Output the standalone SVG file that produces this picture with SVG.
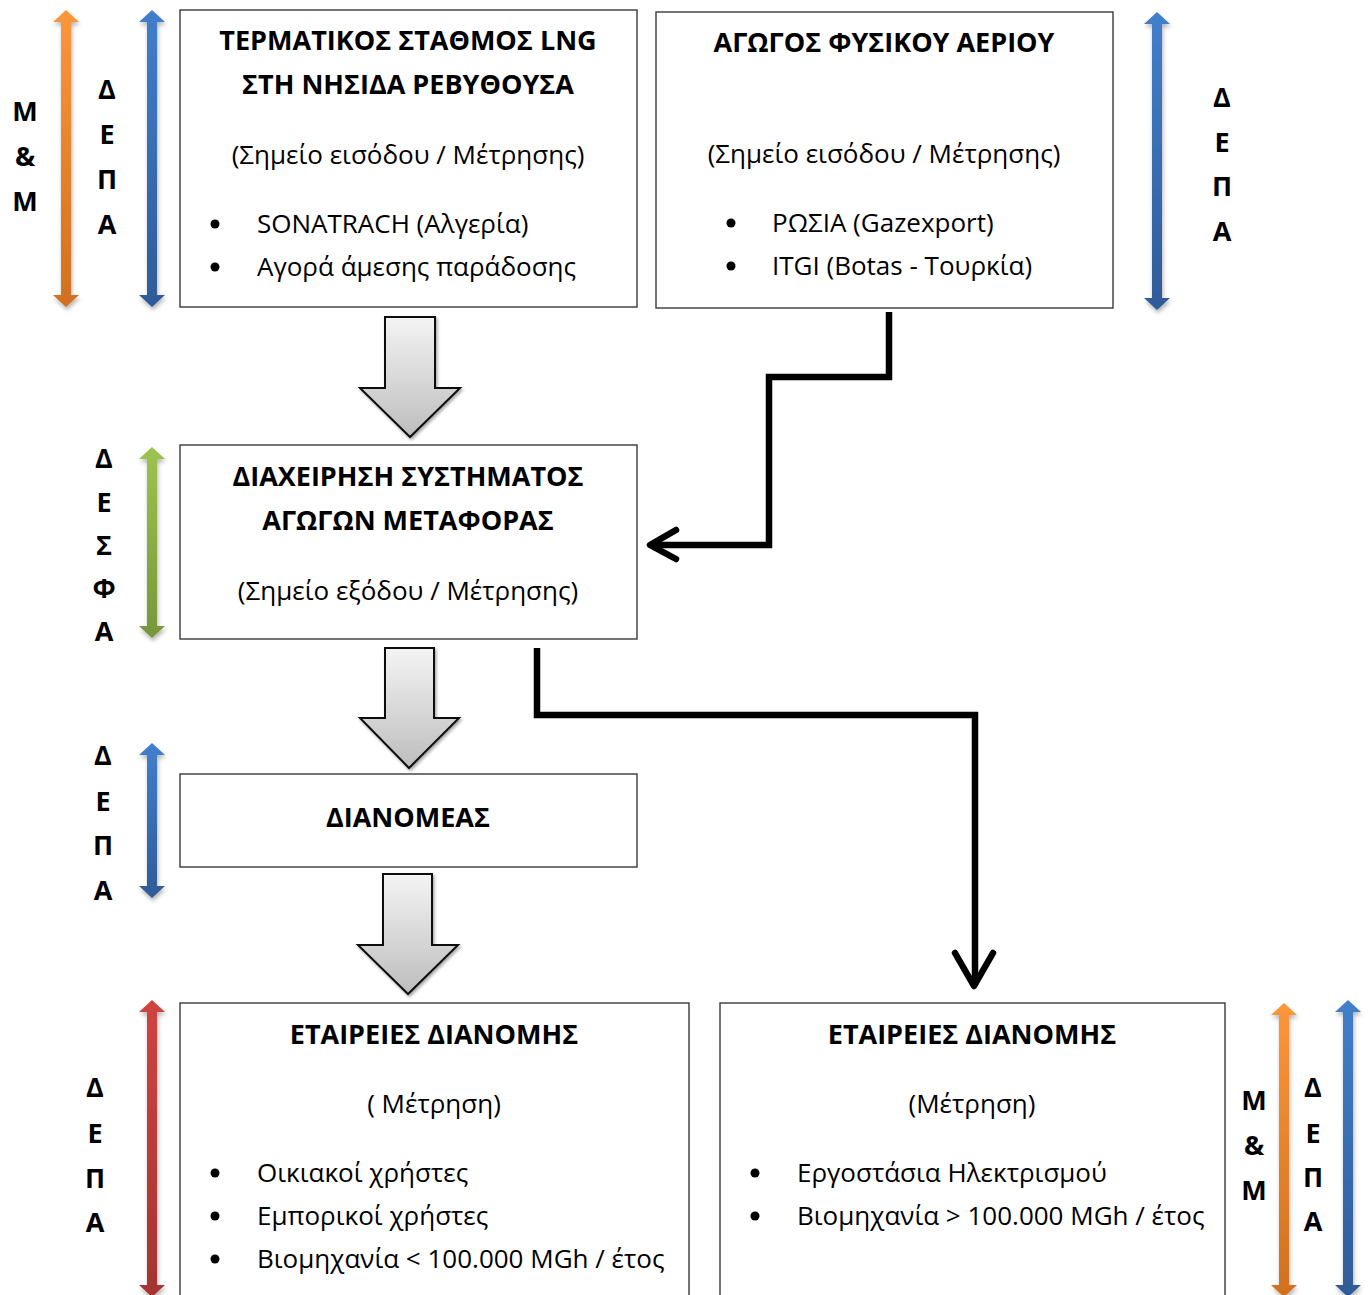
<svg xmlns="http://www.w3.org/2000/svg" width="1370" height="1295" viewBox="0 0 1370 1295">
<defs>
<style>
.box{fill:#fff;stroke:#3a3a3a;stroke-width:1.4}
.t{font-family:"Open Sans","Noto Sans","DejaVu Sans",sans-serif;font-size:26px;fill:#000}
.b{font-weight:bold;font-size:27px}
.m{text-anchor:middle}
.lt{font-family:"Open Sans","Noto Sans","DejaVu Sans",sans-serif;font-size:27px;font-weight:bold;fill:#000;text-anchor:middle}
.con{fill:none;stroke:#000;stroke-width:6.5;stroke-linejoin:miter}
.head{fill:none;stroke:#000;stroke-width:6.5;stroke-linecap:round;stroke-linejoin:round}
.blk{stroke:#111;stroke-width:2;fill:url(#gGray);filter:url(#sh)}
.da{filter:url(#sh2)}
</style>
<linearGradient id="gGray" x1="0" y1="0" x2="0" y2="1">
<stop offset="0" stop-color="#f4f4f4"/><stop offset="1" stop-color="#bdbdbd"/>
</linearGradient>
<linearGradient id="gOr" x1="0" y1="0" x2="0" y2="1">
<stop offset="0" stop-color="#fb973a"/><stop offset="1" stop-color="#d0701f"/>
</linearGradient>
<linearGradient id="gBl" x1="0" y1="0" x2="0" y2="1">
<stop offset="0" stop-color="#427fcc"/><stop offset="1" stop-color="#2f5b97"/>
</linearGradient>
<linearGradient id="gGr" x1="0" y1="0" x2="0" y2="1">
<stop offset="0" stop-color="#9cc44f"/><stop offset="1" stop-color="#76973a"/>
</linearGradient>
<linearGradient id="gRd" x1="0" y1="0" x2="0" y2="1">
<stop offset="0" stop-color="#cf4441"/><stop offset="1" stop-color="#a23532"/>
</linearGradient>
<filter id="sh" x="-20%" y="-20%" width="140%" height="140%">
<feDropShadow dx="1.5" dy="2" stdDeviation="1.5" flood-color="#000" flood-opacity="0.35"/>
</filter>
<filter id="sh2" x="-50%" y="-10%" width="200%" height="120%">
<feDropShadow dx="1" dy="3" stdDeviation="2" flood-color="#000" flood-opacity="0.3"/>
</filter>
</defs>
<rect width="1370" height="1295" fill="#fff"/>

<g id="connectors">
<path class="con" d="M889,312 V377 H769 V545 H652"/>
<polyline class="head" points="676,530 650,545 676,559"/>
<path class="con" d="M537,648 V715 H975 V985"/>
<polyline class="head" points="955,953 974,986 993,953"/>
</g>

<g id="block-arrows">
<path class="blk" d="M385,317 H435 V388 H460 L410,437 L360,388 H385 Z"/>
<path class="blk" d="M385,648 H434 V718 H459 L409,768 L360,718 H385 Z"/>
<path class="blk" d="M383,874 H432 V945 H458 L408,994 L358,945 H383 Z"/>
</g>

<g id="side-arrows">
<path class="da" fill="url(#gOr)" d="M66,10 L79,22 L71,22 L71,295 L79,295 L66,307 L53,295 L61,295 L61,22 L53,22 Z"/>
<path class="da" fill="url(#gBl)" d="M152,10 L165,22 L157,22 L157,295 L165,295 L152,307 L139,295 L147,295 L147,22 L139,22 Z"/>
<path class="da" fill="url(#gBl)" d="M1157,12 L1170,24 L1162,24 L1162,298 L1170,298 L1157,310 L1144,298 L1152,298 L1152,24 L1144,24 Z"/>
<path class="da" fill="url(#gGr)" d="M152,447 L165,459 L157,459 L157,626 L165,626 L152,638 L139,626 L147,626 L147,459 L139,459 Z"/>
<path class="da" fill="url(#gBl)" d="M152,743 L165,755 L157,755 L157,886 L165,886 L152,898 L139,886 L147,886 L147,755 L139,755 Z"/>
<path class="da" fill="url(#gRd)" d="M152,1000 L165,1012 L157,1012 L157,1285 L165,1285 L152,1297 L139,1285 L147,1285 L147,1012 L139,1012 Z"/>
<path class="da" fill="url(#gOr)" d="M1284,1003 L1297,1015 L1289,1015 L1289,1285 L1297,1285 L1284,1297 L1271,1285 L1279,1285 L1279,1015 L1271,1015 Z"/>
<path class="da" fill="url(#gBl)" d="M1348,1000 L1361,1012 L1353,1012 L1353,1285 L1361,1285 L1348,1297 L1335,1285 L1343,1285 L1343,1012 L1335,1012 Z"/>
</g>

<g id="side-labels">
<text class="lt" x="25" y="121">Μ</text><text class="lt" x="25" y="166">&amp;</text><text class="lt" x="25" y="211">Μ</text>
<text class="lt" x="107" y="99">Δ</text><text class="lt" x="107" y="144">Ε</text><text class="lt" x="107" y="189">Π</text><text class="lt" x="107" y="234">Α</text>
<text class="lt" x="1222" y="107">Δ</text><text class="lt" x="1222" y="152">Ε</text><text class="lt" x="1222" y="196">Π</text><text class="lt" x="1222" y="241">Α</text>
<text class="lt" x="104" y="468">Δ</text><text class="lt" x="104" y="512">Ε</text><text class="lt" x="104" y="555">Σ</text><text class="lt" x="104" y="598">Φ</text><text class="lt" x="104" y="641">Α</text>
<text class="lt" x="103" y="765">Δ</text><text class="lt" x="103" y="811">Ε</text><text class="lt" x="103" y="855">Π</text><text class="lt" x="103" y="900">Α</text>
<text class="lt" x="95" y="1097">Δ</text><text class="lt" x="95" y="1143">Ε</text><text class="lt" x="95" y="1188">Π</text><text class="lt" x="95" y="1232">Α</text>
<text class="lt" x="1254" y="1110">Μ</text><text class="lt" x="1254" y="1155">&amp;</text><text class="lt" x="1254" y="1200">Μ</text>
<text class="lt" x="1313" y="1097">Δ</text><text class="lt" x="1313" y="1143">Ε</text><text class="lt" x="1313" y="1187">Π</text><text class="lt" x="1313" y="1231">Α</text>
</g>

<g id="node-lng">
<rect class="box" x="180" y="10" width="457" height="297"/>
<text class="t b m" x="408" y="50">ΤΕΡΜΑΤΙΚΟΣ ΣΤΑΘΜΟΣ LNG</text>
<text class="t b m" x="408" y="94">ΣΤΗ ΝΗΣΙΔΑ ΡΕΒΥΘΟΥΣΑ</text>
<text class="t m" x="408" y="164">(Σημείο εισόδου / Μέτρησης)</text>
<circle cx="215" cy="224" r="4.5"/><text class="t" x="257" y="233">SONATRACH (Αλγερία)</text>
<circle cx="215" cy="267" r="4.5"/><text class="t" x="257" y="276">Αγορά άμεσης παράδοσης</text>
</g>

<g id="node-pipeline">
<rect class="box" x="656" y="12" width="457" height="296"/>
<text class="t b m" x="884" y="52">ΑΓΩΓΟΣ ΦΥΣΙΚΟΥ ΑΕΡΙΟΥ</text>
<text class="t m" x="884" y="163">(Σημείο εισόδου / Μέτρησης)</text>
<circle cx="731" cy="223" r="4.5"/><text class="t" x="772" y="232">ΡΩΣΙΑ (Gazexport)</text>
<circle cx="731" cy="266" r="4.5"/><text class="t" x="772" y="275">ITGI (Botas - Τουρκία)</text>
</g>

<g id="node-desfa">
<rect class="box" x="180" y="445" width="457" height="194"/>
<text class="t b m" x="408" y="486">ΔΙΑΧΕΙΡΗΣΗ ΣΥΣΤΗΜΑΤΟΣ</text>
<text class="t b m" x="408" y="530">ΑΓΩΓΩΝ ΜΕΤΑΦΟΡΑΣ</text>
<text class="t m" x="408" y="600">(Σημείο εξόδου / Μέτρησης)</text>
</g>

<g id="node-distributor">
<rect class="box" x="180" y="774" width="457" height="93"/>
<text class="t b m" x="408" y="827">ΔΙΑΝΟΜΕΑΣ</text>
</g>

<g id="node-dist-left">
<rect class="box" x="180" y="1003" width="509" height="300"/>
<text class="t b m" x="434" y="1044">ΕΤΑΙΡΕΙΕΣ ΔΙΑΝΟΜΗΣ</text>
<text class="t m" x="434" y="1113">( Μέτρηση)</text>
<circle cx="215" cy="1173" r="4.5"/><text class="t" x="257" y="1182">Οικιακοί χρήστες</text>
<circle cx="215" cy="1216" r="4.5"/><text class="t" x="257" y="1225">Εμπορικοί χρήστες</text>
<circle cx="215" cy="1259" r="4.5"/><text class="t" x="257" y="1268">Βιομηχανία &lt; 100.000 MGh / έτος</text>
</g>

<g id="node-dist-right">
<rect class="box" x="720" y="1003" width="505" height="300"/>
<text class="t b m" x="972" y="1044">ΕΤΑΙΡΕΙΕΣ ΔΙΑΝΟΜΗΣ</text>
<text class="t m" x="972" y="1113">(Μέτρηση)</text>
<circle cx="755" cy="1173" r="4.5"/><text class="t" x="797" y="1182">Εργοστάσια Ηλεκτρισμού</text>
<circle cx="755" cy="1216" r="4.5"/><text class="t" x="797" y="1225">Βιομηχανία &gt; 100.000 MGh / έτος</text>
</g>
</svg>
